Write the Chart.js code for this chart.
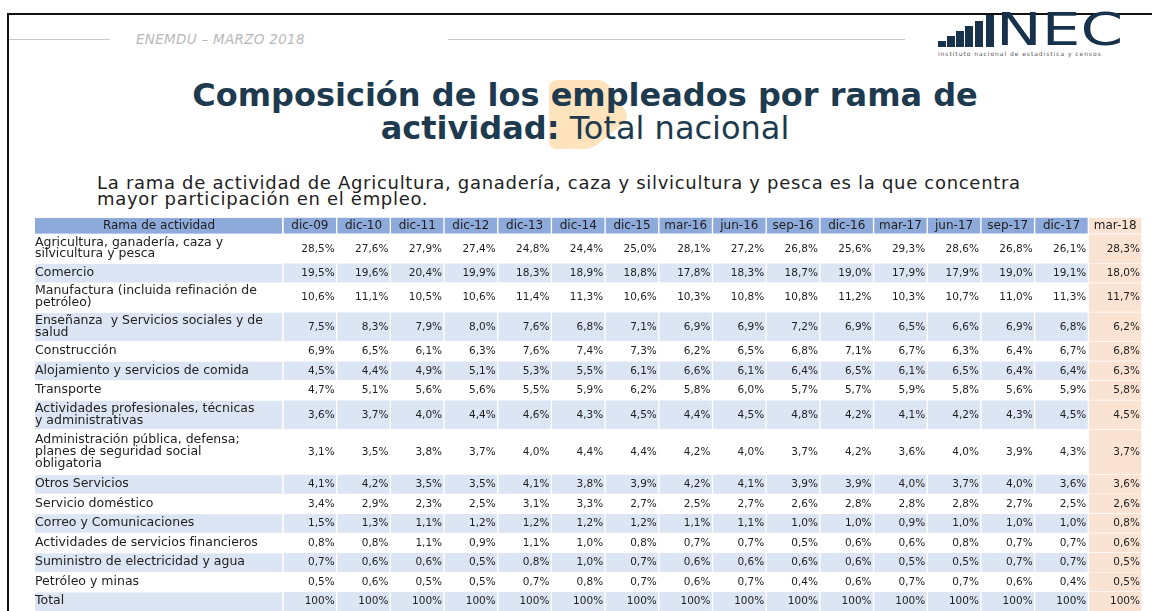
<!DOCTYPE html>
<html lang="es">
<head>
<meta charset="utf-8">
<title>Composición de los empleados por rama de actividad</title>
<script src="https://cdn.jsdelivr.net/npm/chart.js@4.4.1/dist/chart.umd.min.js"></script>
<style>
  html, body { margin: 0; padding: 0; background: #fff; }
  body { width: 1152px; height: 611px; position: relative; overflow: hidden; font-family: 'DejaVu Sans', sans-serif; }
  .marco-sup { position: absolute; left: 7px; top: 13px; width: 1145px; height: 2px; background: #111; }
  .marco-izq { position: absolute; left: 7px; top: 13px; width: 2px; height: 598px; background: #111; }
  .linea { position: absolute; top: 39px; height: 1px; background: #c9c9c9; }
  #encuesta { position: absolute; left: 136px; top: 31px; font-size: 13.5px; letter-spacing: 0.3px; font-style: italic; color: #b8b8b8; white-space: nowrap; }
  .barra { position: absolute; bottom: 564px; width: 8px; background: #17324a; }
  #nec { position: absolute; left: 996px; top: 5px; font-size: 44px; line-height: 50px; color: #17324a; transform: scaleX(1.39); transform-origin: left top; }
  #instituto { position: absolute; left: 938px; top: 50px; font-size: 6px; letter-spacing: 0.95px; color: #555; white-space: nowrap; }
  #mancha { position: absolute; left: 0; top: 0; }
  #titulo { position: absolute; left: 0; top: 79px; width: 1170px; text-align: center; font-size: 32px; line-height: 33px; color: #1d3a4e; }
  #texto { position: absolute; left: 97px; top: 175px; font-size: 18px; letter-spacing: 0.7px; line-height: 16px; color: #222; white-space: nowrap; }
  #tabla { position: absolute; left: 35px; top: 217px; width: 1107px; height: 394px; }
</style>
</head>
<body>
<div class="marco-sup"></div>
<div class="marco-izq"></div>
<div class="linea" style="left:9px;width:101px"></div>
<div class="linea" style="left:448px;width:457px"></div>
<div id="encuesta">ENEMDU – MARZO 2018</div>

<div class="barra" style="left:938px;height:6px"></div>
<div class="barra" style="left:947px;height:11px"></div>
<div class="barra" style="left:956px;height:16px"></div>
<div class="barra" style="left:965px;height:21px"></div>
<div class="barra" style="left:975px;height:26px"></div>
<div class="barra" style="left:986px;height:32px"></div>
<div id="nec">NEC</div>
<div id="instituto">instituto nacional de estadística y censos</div>

<svg id="mancha" width="1152" height="200">
  <path d="M549 88 Q549 80 558 80 L598 80 Q606 80 612 90 L626 112 Q629 118 623 124 L598 144 Q592 149 582 149 L557 149 Q549 149 549 140 Z"
        fill="#fdd9a6" fill-opacity="0.75"/>
</svg>
<div id="titulo"><b>Composición de los empleados por rama de</b><br><b>actividad:</b> Total nacional</div>
<div id="texto">La rama de actividad de Agricultura, ganadería, caza y silvicultura y pesca es la que concentra<br>mayor participación en el empleo.</div>

<div id="tabla"><canvas id="grafico"></canvas></div>

<script>
// periodos (columnas)
const periodos = ['dic-09', 'dic-10', 'dic-11', 'dic-12', 'dic-13', 'dic-14', 'dic-15', 'mar-16',
                  'jun-16', 'sep-16', 'dic-16', 'mar-17', 'jun-17', 'sep-17', 'dic-17', 'mar-18'];

// ramas de actividad (filas), una entrada por linea de texto
const ramasNombres = [
  ['Agricultura, ganadería, caza y', 'silvicultura y pesca'],
  ['Comercio'],
  ['Manufactura (incluida refinación de', 'petróleo)'],
  ['Enseñanza  y Servicios sociales y de', 'salud'],
  ['Construcción'],
  ['Alojamiento y servicios de comida'],
  ['Transporte'],
  ['Actividades profesionales, técnicas', 'y administrativas'],
  ['Administración pública, defensa;', 'planes de seguridad social', 'obligatoria'],
  ['Otros Servicios'],
  ['Servicio doméstico'],
  ['Correo y Comunicaciones'],
  ['Actividades de servicios financieros'],
  ['Suministro de electricidad y agua'],
  ['Petróleo y minas'],
  ['Total']
];

// porcentajes por rama
const agricultura   = [28.5, 27.6, 27.9, 27.4, 24.8, 24.4, 25.0, 28.1, 27.2, 26.8, 25.6, 29.3, 28.6, 26.8, 26.1, 28.3];
const comercio      = [19.5, 19.6, 20.4, 19.9, 18.3, 18.9, 18.8, 17.8, 18.3, 18.7, 19.0, 17.9, 17.9, 19.0, 19.1, 18.0];
const manufactura   = [10.6, 11.1, 10.5, 10.6, 11.4, 11.3, 10.6, 10.3, 10.8, 10.8, 11.2, 10.3, 10.7, 11.0, 11.3, 11.7];
const ensenanza     = [7.5, 8.3, 7.9, 8.0, 7.6, 6.8, 7.1, 6.9, 6.9, 7.2, 6.9, 6.5, 6.6, 6.9, 6.8, 6.2];
const construccion  = [6.9, 6.5, 6.1, 6.3, 7.6, 7.4, 7.3, 6.2, 6.5, 6.8, 7.1, 6.7, 6.3, 6.4, 6.7, 6.8];
const alojamiento   = [4.5, 4.4, 4.9, 5.1, 5.3, 5.5, 6.1, 6.6, 6.1, 6.4, 6.5, 6.1, 6.5, 6.4, 6.4, 6.3];
const transporte    = [4.7, 5.1, 5.6, 5.6, 5.5, 5.9, 6.2, 5.8, 6.0, 5.7, 5.7, 5.9, 5.8, 5.6, 5.9, 5.8];
const profesionales = [3.6, 3.7, 4.0, 4.4, 4.6, 4.3, 4.5, 4.4, 4.5, 4.8, 4.2, 4.1, 4.2, 4.3, 4.5, 4.5];
const administracion = [3.1, 3.5, 3.8, 3.7, 4.0, 4.4, 4.4, 4.2, 4.0, 3.7, 4.2, 3.6, 4.0, 3.9, 4.3, 3.7];
const otrosServicios = [4.1, 4.2, 3.5, 3.5, 4.1, 3.8, 3.9, 4.2, 4.1, 3.9, 3.9, 4.0, 3.7, 4.0, 3.6, 3.6];
const domestico     = [3.4, 2.9, 2.3, 2.5, 3.1, 3.3, 2.7, 2.5, 2.7, 2.6, 2.8, 2.8, 2.8, 2.7, 2.5, 2.6];
const correo        = [1.5, 1.3, 1.1, 1.2, 1.2, 1.2, 1.2, 1.1, 1.1, 1.0, 1.0, 0.9, 1.0, 1.0, 1.0, 0.8];
const financieros   = [0.8, 0.8, 1.1, 0.9, 1.1, 1.0, 0.8, 0.7, 0.7, 0.5, 0.6, 0.6, 0.8, 0.7, 0.7, 0.6];
const suministro    = [0.7, 0.6, 0.6, 0.5, 0.8, 1.0, 0.7, 0.6, 0.6, 0.6, 0.6, 0.5, 0.5, 0.7, 0.7, 0.5];
const petroleo      = [0.5, 0.6, 0.5, 0.5, 0.7, 0.8, 0.7, 0.6, 0.7, 0.4, 0.6, 0.7, 0.7, 0.6, 0.4, 0.5];
const total         = [100, 100, 100, 100, 100, 100, 100, 100, 100, 100, 100, 100, 100, 100, 100, 100];

const valores = [agricultura, comercio, manufactura, ensenanza, construccion, alojamiento, transporte,
                 profesionales, administracion, otrosServicios, domestico, correo, financieros,
                 suministro, petroleo, total];

const AZUL = '#8eaadb';
const CELESTE = '#dbe5f3';
const DURAZNO = '#fbe3d3';
const FUENTE = '"DejaVu Sans", sans-serif';

// alto de cada fila segun las lineas de su etiqueta
const ALTO = { 1: 1, 2: 1.5, 3: 2.3 };
const filas = [{ etiqueta: '', inicio: 0, fin: 0.85, encabezado: true, fondo: AZUL }];
let acumulado = 0.85;
ramasNombres.forEach((nombre, i) => {
  const alto = ALTO[nombre.length];
  filas.push({ etiqueta: nombre, inicio: acumulado, fin: acumulado + alto, valores: valores[i],
               fondo: i % 2 === 1 ? CELESTE : null });
  acumulado += alto;
});

function formato(v) {
  return v >= 100 ? '100%' : v.toFixed(1).replace('.', ',') + '%';
}

const tablaPlugin = {
  id: 'tabla',
  beforeDraw(chart) {
    const ctx = chart.ctx, y = chart.scales.y;
    ctx.save();
    filas.forEach(f => {
      if (!f.fondo) return;
      const arriba = y.getPixelForValue(f.inicio), abajo = y.getPixelForValue(f.fin);
      ctx.fillStyle = f.fondo;
      ctx.fillRect(y.left, arriba + 1, y.right - y.left - 1, abajo - arriba - 1);
    });
    ctx.restore();
  },
  afterDatasetsDraw(chart) {
    const ctx = chart.ctx, y = chart.scales.y;
    ctx.save();
    ctx.fillStyle = '#1e1e1e';
    ctx.textBaseline = 'middle';
    filas.forEach((f, i) => {
      const meta = chart.getDatasetMeta(i);
      meta.data.forEach((bar, j) => {
        const cy = (bar.y + bar.base) / 2 + 0.5;
        if (f.encabezado) {
          ctx.font = '12px ' + FUENTE;
          ctx.textAlign = 'center';
          ctx.fillText(periodos[j], bar.x, cy);
        } else {
          ctx.font = '10.5px ' + FUENTE;
          ctx.textAlign = 'right';
          ctx.fillText(formato(f.valores[j]), bar.x + bar.width / 2 - 2, cy);
        }
      });
    });
    const h = filas[0];
    ctx.font = '12px ' + FUENTE;
    ctx.textAlign = 'center';
    ctx.fillText('Rama de actividad', (y.left + y.right) / 2,
                 (y.getPixelForValue(h.inicio) + y.getPixelForValue(h.fin)) / 2 + 0.5);
    ctx.restore();
  }
};

const datasets = filas.map(f => ({
  data: periodos.map(() => [f.inicio, f.fin]),
  backgroundColor: periodos.map((p, j) => j === periodos.length - 1 ? DURAZNO : (f.fondo || '#fff')),
  borderColor: '#fff',
  borderWidth: { top: 1, bottom: 0, left: 1, right: 1 },
  borderSkipped: false,
  grouped: false,
  barPercentage: 1,
  categoryPercentage: 1
}));

const config = {
  type: 'bar',
  data: { labels: periodos, datasets: datasets },
  options: {
    responsive: true,
    maintainAspectRatio: false,
    animation: false,
    layout: { padding: 0 },
    plugins: { legend: { display: false }, tooltip: { enabled: false } },
    scales: {
      x: { type: 'category', display: false },
      y: {
        type: 'linear', reverse: true, min: 0, max: acumulado,
        grid: { display: false },
        border: { display: false },
        afterBuildTicks: s => { s.ticks = filas.map(f => ({ value: (f.inicio + f.fin) / 2 })); },
        afterFit: s => { s.width = 248; s.paddingTop = 0; s.paddingBottom = 0; },
        ticks: {
          autoSkip: false,
          crossAlign: 'far',
          padding: 0,
          color: '#222',
          font: { family: 'DejaVu Sans', size: 12.5, lineHeight: 0.95 },
          callback: (v, i) => filas[i].etiqueta
        }
      }
    }
  },
  plugins: [tablaPlugin]
};

new Chart(document.getElementById('grafico').getContext('2d'), config);
</script>
</body>
</html>
